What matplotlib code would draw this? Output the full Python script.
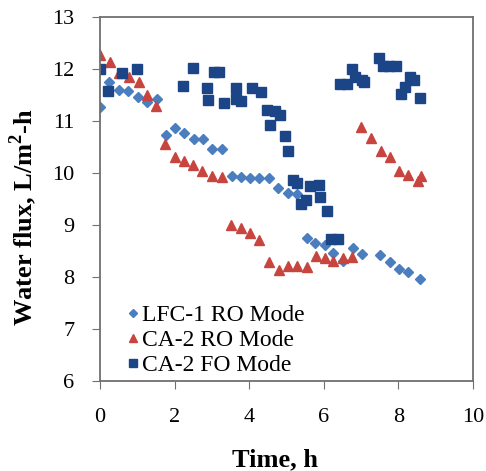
import matplotlib
matplotlib.use("Agg")
import matplotlib.pyplot as plt

# LFC-1 RO Mode (diamonds)
lfc_x = [0.0, 0.24, 0.51, 0.76, 1.01, 1.27, 1.52, 1.76, 2.01, 2.25, 2.52, 2.77, 3.01, 3.27,
         3.53, 3.77, 4.02, 4.27, 4.53, 4.78, 5.03, 5.27, 5.54, 5.77, 6.03, 6.26, 6.52,
         6.78, 7.02, 7.52, 7.77, 8.03, 8.27, 8.57]
lfc_y = [11.26, 11.74, 11.6, 11.58, 11.46, 11.37, 11.42, 10.73, 10.86, 10.76, 10.65, 10.65, 10.47, 10.46,
         9.94, 9.93, 9.9, 9.9, 9.9, 9.72, 9.62, 9.6, 8.75, 8.65, 8.61, 8.47, 8.31,
         8.55, 8.44, 8.43, 8.28, 8.16, 8.09, 7.96]

# CA-2 RO Mode (triangles)
ro_x = [0.0, 0.27, 0.51, 0.78, 1.03, 1.27, 1.5, 1.74, 2.01, 2.25, 2.5, 2.74, 3.01, 3.27,
        3.5, 3.77, 4.02, 4.27, 4.52, 4.8, 5.04, 5.28, 5.54, 5.78, 6.02, 6.26, 6.51, 6.76,
        7.01, 7.28, 7.53, 7.77, 8.02, 8.27, 8.53, 8.62]
ro_y = [12.27, 12.14, 11.92, 11.85, 11.74, 11.5, 11.28, 10.55, 10.31, 10.24, 10.15, 10.03, 9.94, 9.93,
        9.0, 8.94, 8.84, 8.71, 8.28, 8.14, 8.21, 8.22, 8.2, 8.4, 8.36, 8.3, 8.36, 8.38,
        10.88, 10.67, 10.43, 10.3, 10.03, 9.96, 9.84, 9.94]

# CA-2 FO Mode (squares)
fo_x = [0.0, 0.21, 0.6, 1.0, 2.23, 2.49, 2.87, 2.9, 3.05, 3.2, 3.31, 3.64, 3.65, 3.79,
        4.07, 4.31, 4.47, 4.56, 4.68, 4.82, 4.96, 5.04, 5.18, 5.29, 5.39, 5.52, 5.63, 5.88,
        5.9, 6.09, 6.19, 6.39,
        6.43, 6.61, 6.77, 6.84, 7.02, 7.08, 7.49, 7.6, 7.76, 7.94, 8.06, 8.18, 8.31, 8.42, 8.58]
fo_y = [12.0, 11.58, 11.93, 12.0, 11.68, 12.01, 11.64, 11.41, 11.94, 11.95, 11.34, 11.64, 11.43, 11.39,
        11.64, 11.56, 11.21, 10.92, 11.2, 11.12, 10.72, 10.43, 9.87, 9.81, 9.4, 9.49, 9.75, 9.77,
        9.54, 9.26, 8.74, 8.74,
        11.72, 11.72, 11.99, 11.84, 11.79, 11.74, 12.22, 12.06, 12.06, 12.06, 11.52, 11.66, 11.85, 11.78, 11.44]

labels = ["LFC-1 RO Mode", "CA-2 RO Mode", "CA-2 FO Mode"]
x_ticks = [0, 2, 4, 6, 8, 10]
y_ticks = [6, 7, 8, 9, 10, 11, 12, 13]

plt.rcParams['font.family'] = ['Liberation Serif', 'DejaVu Serif']
plt.rcParams['mathtext.fontset'] = 'custom'
plt.rcParams['mathtext.rm'] = 'Liberation Serif'
plt.rcParams['mathtext.bf'] = 'Liberation Serif:bold'

fig = plt.figure(figsize=(4.86, 4.71), dpi=100)
ax = fig.add_axes([0.206, 0.191, 0.767, 0.773])

ax.plot(lfc_x, lfc_y, linestyle='none', marker='D', ms=5, color='#4A7EBF', mec='#4A7EBF', label=labels[0])
ax.plot(ro_x, ro_y, linestyle='none', marker='^', ms=6.5, color='#C8453F', mec='#C8453F', label=labels[1])
ax.plot(fo_x, fo_y, linestyle='none', marker='s', ms=6.5, color='#1B4586', mec='#1B4586', label=labels[2])

ax.set_xlim(0, 10)
ax.set_ylim(6, 13)
ax.set_xticks(x_ticks)
ax.set_yticks(y_ticks)
ax.tick_params(axis='both', labelsize=16, direction='out', length=5.5, color='#707070')
ax.tick_params(axis='x', pad=14)
ax.tick_params(axis='y', pad=13)
for s in ax.spines.values():
    s.set_color('#707070')
    s.set_linewidth(1.3)

ax.set_xlabel("Time, h", fontsize=19, fontweight='bold', va='center')
ax.xaxis.set_label_coords(0.47, -0.215)
ax.set_ylabel("Water flux, L/m$^\\mathbf{2}$-h", fontsize=19, fontweight='bold', va='center')
ax.yaxis.set_label_coords(-0.206, 0.45)

leg = ax.legend(loc='lower left', bbox_to_anchor=(0.075, 0.014), frameon=False, fontsize=17,
                handlelength=0.4, handletextpad=0.2, labelspacing=0.15, markerscale=0.8,
                borderaxespad=0.0, borderpad=0.0)

fig.savefig("out.png", dpi=100)
